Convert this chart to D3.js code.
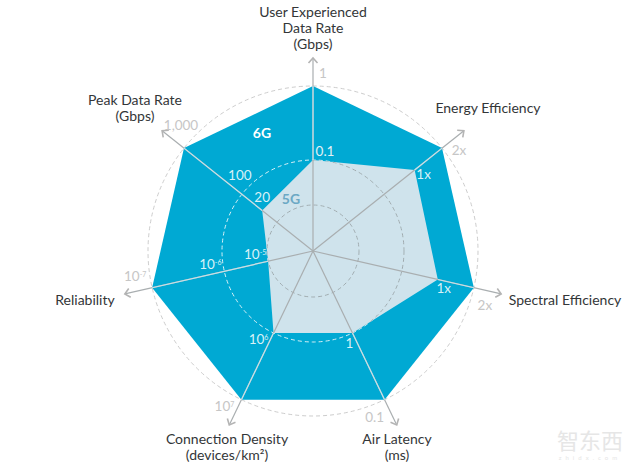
<!DOCTYPE html>
<html>
<head>
<meta charset="utf-8">
<script src="https://cdnjs.cloudflare.com/ajax/libs/d3/7.8.5/d3.min.js"></script>
<style>
  html, body { margin: 0; padding: 0; background: #fff; }
  svg { display: block; }
  text { font-family: "Lato", "Noto Sans", sans-serif; }
</style>
</head>
<body>
<svg id="chart" width="640" height="473"></svg>
<script>
// clockwise from the top
const categories = [
    ["User Experienced", "Data Rate", "(Gbps)"],
    ["Energy Efficiency"],
    ["Spectral Efficiency"],
    ["Air Latency", "(ms)"],
    ["Connection Density", "(devices/km²)"],
    ["Reliability"],
    ["Peak Data Rate", "(Gbps)"]
];
const values5G = [0.1, 1, 1, 1, 1e6, 1e-5, 20];
const values6G = [1, 2, 2, 0.1, 1e7, 1e-7, 1000];

// tick values along each axis, inside to outside
const axisTicks = [
    [0.1, 1],
    [1, 2],
    [1, 2],
    [1, 0.1],
    [1e6, 1e7],
    [1e-5, 1e-6, 1e-7],
    [20, 100, 1000]
];
const tickLabels = [
    [["0.1"], ["1"]],
    [["1x"], ["2x"]],
    [["1x"], ["2x"]],
    [["1"], ["0.1"]],
    [["10", "6"], ["10", "7"]],
    [["10", "-5"], ["10", "-6"], ["10", "-7"]],
    [["20"], ["100"], ["1,000"]]
];

const cx = 313, cy = 251;
const rings = [46, 91, 165];
const axisLen = 193;

// where each axis tick sits on the chart
const axisRadii = [
    [91, 165],
    [130, 165],
    [128, 165],
    [91, 165],
    [91, 165],
    [46, 91, 165],
    [65, 91, 165]
];
// tick label offsets from the tick position
const tickOffsets = [
    [[12, -9], [10, -13]],
    [[9, 4], [17, 2]],
    [[6, 9], [11, 18]],
    [[-3, 10], [-10, 18]],
    [[-15, 6], [-17, 7]],
    [[-13, -7], [-14, -7], [-17, -11]],
    [[0, -13], [-2, -19], [-3, -23]]
];
const labelPos = [[313, 12], [488, 108], [565, 300], [397, 439], [227, 439], [85, 300], [135, 100]];

const svg = d3.select('#chart');
const defs = svg.append('defs');
const g = svg.append('g').attr('transform', `translate(${cx},${cy})`);

const angle = i => i * 2 * Math.PI / categories.length;
const scales = axisTicks.map((t, i) => d3.scaleLog().domain(t).range(axisRadii[i]));

let radial = d3.lineRadial()
    .angle((d, i) => angle(i))
    .radius((d, i) => scales[i](d))
    .curve(d3.curveLinearClosed);

// outer ring sits behind the 6G shape
g.append('circle')
    .attr('r', rings[2])
    .attr('fill', 'none')
    .attr('stroke', '#cdcdcd')
    .attr('stroke-width', 1)
    .attr('stroke-dasharray', '4 3');

g.append('path').attr('d', radial(values6G)).attr('fill', '#00a9d3');
g.append('path').attr('d', radial(values5G)).attr('fill', '#cfe3ec');

defs.append('clipPath').attr('id', 'clip5g')
    .append('path').attr('d', radial(values5G));
defs.append('clipPath').attr('id', 'clip6g')
    .append('path').attr('d', radial(values6G));

// rings are white over 6G and gray over 5G
g.append('g').attr('clip-path', 'url(#clip6g)')
    .selectAll('circle')
    .data(rings.slice(0, 2))
    .enter()
    .append('circle')
    .attr('r', d => d)
    .attr('fill', 'none')
    .attr('stroke', '#d8f0f6')
    .attr('stroke-width', 1)
    .attr('stroke-dasharray', '4 3');

g.append('g').attr('clip-path', 'url(#clip5g)')
    .selectAll('circle')
    .data(rings.slice(0, 2))
    .enter()
    .append('circle')
    .attr('r', d => d)
    .attr('fill', '#cfe3ec')
    .attr('fill-opacity', 0)
    .attr('stroke', '#9fa9ae')
    .attr('stroke-width', 1)
    .attr('stroke-dasharray', '4 3');

defs.append('marker')
    .attr('id', 'arrow')
    .attr('viewBox', '-7 -6 9 12')
    .attr('refX', 0)
    .attr('refY', 0)
    .attr('markerWidth', 9)
    .attr('markerHeight', 12)
    .attr('markerUnits', 'userSpaceOnUse')
    .attr('orient', 'auto')
    .append('path')
    .attr('d', 'M-5,-4.5L0,0L-5,4.5')
    .attr('fill', 'none')
    .attr('stroke', '#b4b4b4')
    .attr('stroke-width', 1.6);

// axes: gray all the way, lighter where they cross the 6G band
const axisPt = (i, r) => d3.pointRadial(angle(i), r);

g.selectAll('line.axis')
    .data(categories)
    .enter()
    .append('line')
    .attr('class', 'axis')
    .attr('x1', 0)
    .attr('y1', 0)
    .attr('x2', (d, i) => axisPt(i, axisLen)[0])
    .attr('y2', (d, i) => axisPt(i, axisLen)[1])
    .attr('stroke', '#a9aeb0')
    .attr('stroke-width', 1.2)
    .attr('marker-end', 'url(#arrow)');

g.selectAll('line.band')
    .data(categories)
    .enter()
    .append('line')
    .attr('class', 'band')
    .attr('x1', (d, i) => axisPt(i, scales[i](values5G[i]))[0])
    .attr('y1', (d, i) => axisPt(i, scales[i](values5G[i]))[1])
    .attr('x2', (d, i) => axisPt(i, scales[i](values6G[i]))[0])
    .attr('y2', (d, i) => axisPt(i, scales[i](values6G[i]))[1])
    .attr('stroke', '#c3e3ec')
    .attr('stroke-width', 1.2);

// tick labels
categories.forEach((c, i) => {
    axisTicks[i].forEach((t, j) => {
        let p = axisPt(i, scales[i](t));
        let outer = scales[i](t) >= rings[2];
        let label = tickLabels[i][j];
        let txt = g.append('text')
            .attr('x', p[0] + tickOffsets[i][j][0])
            .attr('y', p[1] + tickOffsets[i][j][1])
            .attr('dy', '0.35em')
            .attr('text-anchor', 'middle')
            .attr('font-size', 13.5)
            .attr('fill', outer ? '#c6c6c6' : (i === 0 ? '#e4f1f5' : '#d9f1f7'));
        txt.append('tspan').text(label[0]);
        if (label[1]) {
            txt.append('tspan')
                .attr('font-size', 7)
                .attr('dy', '-0.6em')
                .text(label[1]);
        }
    });
});

// category labels
categories.forEach((lines, i) => {
    svg.append('text')
        .attr('x', labelPos[i][0])
        .attr('y', labelPos[i][1])
        .attr('text-anchor', 'middle')
        .attr('font-size', 14)
        .attr('fill', '#333638')
        .selectAll('tspan')
        .data(lines)
        .enter()
        .append('tspan')
        .attr('x', labelPos[i][0])
        .attr('dy', (d, k) => k === 0 ? '0.35em' : '16px')
        .text(d => d);
});

svg.append('text')
    .attr('x', 262).attr('y', 133).attr('dy', '0.35em')
    .attr('text-anchor', 'middle')
    .attr('font-size', 14).attr('font-weight', 700)
    .attr('fill', '#fff')
    .text('6G');
svg.append('text')
    .attr('x', 291).attr('y', 199).attr('dy', '0.35em')
    .attr('text-anchor', 'middle')
    .attr('font-size', 14).attr('font-weight', 700)
    .attr('fill', '#6ba8c4')
    .text('5G');

// watermark
svg.append('text')
    .attr('x', 590).attr('y', 441).attr('dy', '0.35em')
    .attr('text-anchor', 'middle')
    .attr('font-size', 22)
    .style('font-family', '"Noto Sans CJK SC"')
    .attr('fill', '#e6e6e6')
    .text('智东西');
svg.append('text')
    .attr('x', 590).attr('y', 458).attr('dy', '0.35em')
    .attr('text-anchor', 'middle')
    .attr('font-size', 6)
    .attr('letter-spacing', 4)
    .attr('fill', '#e6e6e6')
    .text('zhidx.com');
</script>
</body>
</html>
